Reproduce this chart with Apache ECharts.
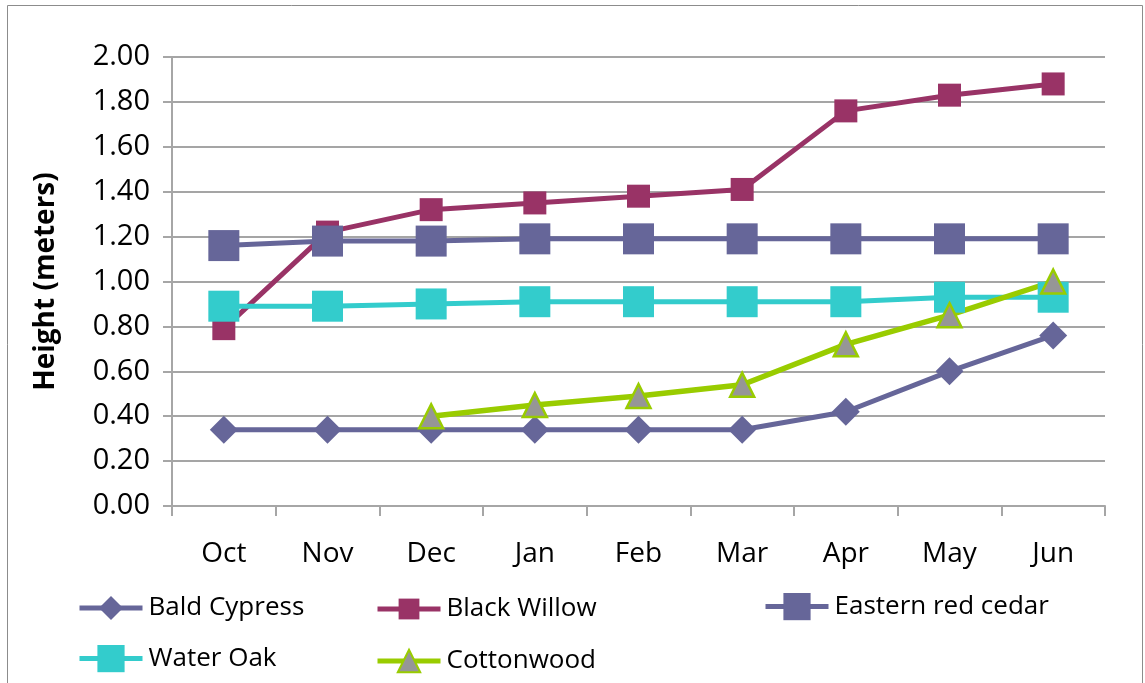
<!DOCTYPE html>
<html>
<head>
<meta charset="utf-8">
<script src="https://cdn.jsdelivr.net/npm/echarts@6/dist/echarts.min.js"></script>
<style>
  html, body { margin: 0; padding: 0; background: #fff; }
  #chart { width: 1145px; height: 683px; }
</style>
</head>
<body>
<div id="chart"></div>
<script>
// months on the x axis
var months = ['Oct', 'Nov', 'Dec', 'Jan', 'Feb', 'Mar', 'Apr', 'May', 'Jun'];

// tree heights (meters)
var baldCypress = [0.34, 0.34, 0.34, 0.34, 0.34, 0.34, 0.42, 0.60, 0.76];
var blackWillow = [0.79, 1.22, 1.32, 1.35, 1.38, 1.41, 1.76, 1.83, 1.88];
var easternRedCedar = [1.16, 1.18, 1.18, 1.19, 1.19, 1.19, 1.19, 1.19, 1.19];
var waterOak = [0.89, 0.89, 0.90, 0.91, 0.91, 0.91, 0.91, 0.93, 0.93];
var cottonwood = [null, null, 0.40, 0.45, 0.49, 0.54, 0.72, 0.85, 1.00];

var chart = echarts.init(document.getElementById('chart'));

var font = '"Open Sans", "Noto Sans", sans-serif';

function legendAt(name, left, top, h) {
    return {
        data: [name],
        left: left,
        top: top,
        padding: 0,
        itemWidth: 63,
        itemHeight: h,
        selectedMode: false,
        lineStyle: { width: 5 },
        textStyle: {
            fontFamily: font,
            fontSize: 26,
            color: '#000',
            padding: [0, 0, 0, 1]
        }
    };
}

var option = {
    animation: false,
    graphic: [{
        type: 'rect',
        shape: { x: 7.5, y: 5.5, width: 1135, height: 700 },
        style: { fill: 'none', stroke: '#8c8c8c', lineWidth: 1 },
        silent: true
    }],
    grid: {
        left: 172,
        right: 40,
        top: 57,
        bottom: 177
    },
    legend: [
        legendAt('Bald Cypress', 77, 595, 30),
        legendAt('Black Willow', 375, 596, 26),
        legendAt('Eastern red cedar', 763, 593, 34),
        legendAt('Water Oak', 77, 645, 34),
        legendAt('Cottonwood', 375, 648, 28)
    ],
    xAxis: {
        type: 'category',
        data: months,
        boundaryGap: true,
        axisLine: { lineStyle: { color: '#a6a6a6', width: 2 } },
        axisTick: { show: true, length: 10, alignWithLabel: false, lineStyle: { color: '#a6a6a6', width: 2 } },
        axisLabel: {
            fontFamily: font,
            fontSize: 28,
            color: '#000',
            margin: 34
        },
        splitLine: { show: false }
    },
    yAxis: {
        type: 'value',
        min: 0,
        max: 2,
        interval: 0.2,
        name: 'Height (meters)',
        nameLocation: 'middle',
        nameGap: 112,
        nameRotate: 90,
        nameTextStyle: {
            fontFamily: font,
            fontSize: 28,
            fontWeight: 'bold',
            color: '#000'
        },
        axisLine: { show: true, lineStyle: { color: '#a6a6a6', width: 2 } },
        axisTick: { show: true, length: 9, lineStyle: { color: '#a6a6a6', width: 2 } },
        axisLabel: {
            fontFamily: font,
            fontSize: 29,
            color: '#000',
            margin: 22,
            formatter: function (v) { return v.toFixed(2); }
        },
        splitLine: { show: true, lineStyle: { color: '#878787', width: 1.5 } }
    },
    series: [
        {
            name: 'Bald Cypress',
            type: 'line',
            data: baldCypress,
            symbol: 'diamond',
            symbolSize: 28,
            itemStyle: { color: '#666699' },
            lineStyle: { color: '#666699', width: 5 }
        },
        {
            name: 'Black Willow',
            type: 'line',
            data: blackWillow,
            symbol: 'rect',
            symbolSize: 23,
            itemStyle: { color: '#993366' },
            lineStyle: { color: '#993366', width: 5 }
        },
        {
            name: 'Eastern red cedar',
            type: 'line',
            data: easternRedCedar,
            symbol: 'rect',
            symbolSize: 31,
            itemStyle: { color: '#666699' },
            lineStyle: { color: '#666699', width: 5 }
        },
        {
            name: 'Water Oak',
            type: 'line',
            data: waterOak,
            symbol: 'rect',
            symbolSize: 31,
            itemStyle: { color: '#33CCCC' },
            lineStyle: { color: '#33CCCC', width: 5 }
        },
        {
            name: 'Cottonwood',
            type: 'line',
            data: cottonwood,
            symbol: 'triangle',
            symbolSize: [24, 24],
            itemStyle: { color: '#969696', borderColor: '#99CC00', borderWidth: 2.5 },
            lineStyle: { color: '#99CC00', width: 5.5 }
        }
    ]
};

chart.setOption(option);
</script>
</body>
</html>
